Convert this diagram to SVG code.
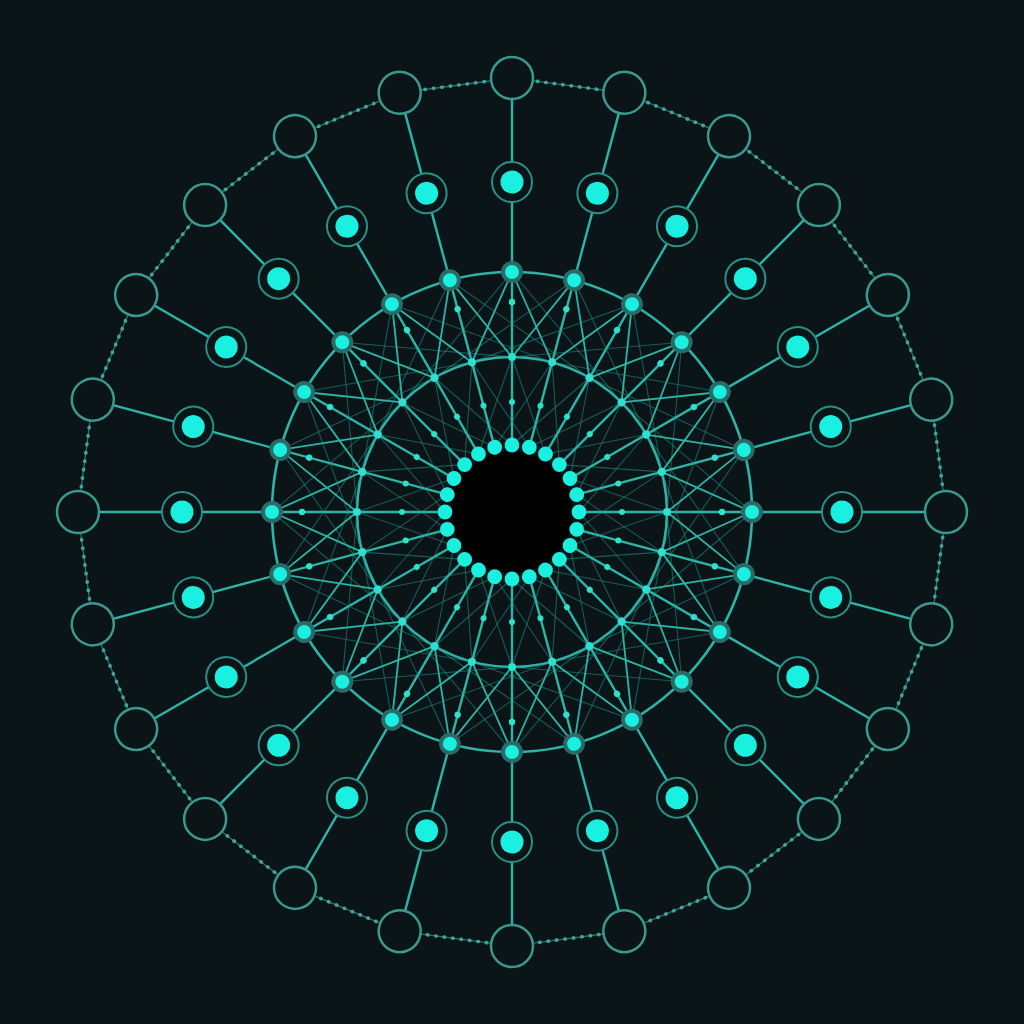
<svg xmlns="http://www.w3.org/2000/svg" xmlns:xlink="http://www.w3.org/1999/xlink" width="1024" height="1024" viewBox="0 0 1024 1024">
<style>
.spoke{stroke:#2cb5a7;stroke-width:2.4;fill:none}
.web{stroke:#2cb5a7;stroke-width:1.8;fill:none}
.thin{stroke:#25a093;stroke-width:1.1;fill:none;opacity:.5}
.ring{stroke:#2cb5a7;stroke-width:2.6;fill:none}
.dots{stroke:#3fa59b;stroke-width:3.6;stroke-linecap:round;stroke-dasharray:0.5 8;fill:none}
.faint{stroke:#2d7d76;stroke-width:1.2;fill:none}
.outer{fill:#0b1518;stroke:#3a9a91;stroke-width:2.5}
.cring{fill:#0b1518;stroke:#2a8f86;stroke-width:2}
.cyan{fill:#19f0e0}
.halo{fill:#2b6a66}
.jd{fill:#2ee0d0}
</style>
<defs>
<g id="sec">
 <line class="faint" x1="512" y1="78" x2="624.3" y2="92.8"/>
 <line class="dots" x1="512" y1="78" x2="624.3" y2="92.8"/>
 <line class="spoke" x1="512" y1="99" x2="512" y2="450"/>
 <line class="web" x1="512" y1="272" x2="552.1" y2="362.3"/>
 <line class="web" x1="512" y1="272" x2="471.9" y2="362.3"/>
 <line class="thin" x1="512" y1="272" x2="621.6" y2="402.4"/>
 <line class="thin" x1="512" y1="272" x2="402.4" y2="402.4"/>
 <line class="thin" x1="512" y1="357" x2="545.5" y2="454"/>
 <line class="thin" x1="512" y1="357" x2="478.5" y2="454"/>
</g>
<g id="jn">
 <circle class="jd" cx="512" cy="302" r="3.2"/>
 <circle class="jd" cx="512" cy="357" r="4"/>
 <circle class="jd" cx="512" cy="402" r="3"/>
</g>
<g id="on"><circle class="outer" cx="512" cy="78" r="21"/></g>
<g id="cn"><circle class="cring" cx="512" cy="182" r="20"/><circle class="cyan" cx="512" cy="182" r="11.5"/></g>
<g id="mn"><circle class="halo" cx="512" cy="272" r="11"/><circle class="cyan" cx="512" cy="272" r="7"/></g>
<g id="dn"><circle class="cyan" cx="512" cy="445" r="7.4"/></g>
</defs>
<rect width="1024" height="1024" fill="#0b1518"/>
<g id="connectors">
 <circle class="ring" cx="512" cy="512" r="240"/>
 <circle class="ring" cx="512" cy="512" r="155"/>
 <use xlink:href="#sec"/>
 <use xlink:href="#sec" transform="rotate(15 512 512)"/>
 <use xlink:href="#sec" transform="rotate(30 512 512)"/>
 <use xlink:href="#sec" transform="rotate(45 512 512)"/>
 <use xlink:href="#sec" transform="rotate(60 512 512)"/>
 <use xlink:href="#sec" transform="rotate(75 512 512)"/>
 <use xlink:href="#sec" transform="rotate(90 512 512)"/>
 <use xlink:href="#sec" transform="rotate(105 512 512)"/>
 <use xlink:href="#sec" transform="rotate(120 512 512)"/>
 <use xlink:href="#sec" transform="rotate(135 512 512)"/>
 <use xlink:href="#sec" transform="rotate(150 512 512)"/>
 <use xlink:href="#sec" transform="rotate(165 512 512)"/>
 <use xlink:href="#sec" transform="rotate(180 512 512)"/>
 <use xlink:href="#sec" transform="rotate(195 512 512)"/>
 <use xlink:href="#sec" transform="rotate(210 512 512)"/>
 <use xlink:href="#sec" transform="rotate(225 512 512)"/>
 <use xlink:href="#sec" transform="rotate(240 512 512)"/>
 <use xlink:href="#sec" transform="rotate(255 512 512)"/>
 <use xlink:href="#sec" transform="rotate(270 512 512)"/>
 <use xlink:href="#sec" transform="rotate(285 512 512)"/>
 <use xlink:href="#sec" transform="rotate(300 512 512)"/>
 <use xlink:href="#sec" transform="rotate(315 512 512)"/>
 <use xlink:href="#sec" transform="rotate(330 512 512)"/>
 <use xlink:href="#sec" transform="rotate(345 512 512)"/>
</g>
<g id="junctions">
 <use xlink:href="#jn"/>
 <use xlink:href="#jn" transform="rotate(15 512 512)"/>
 <use xlink:href="#jn" transform="rotate(30 512 512)"/>
 <use xlink:href="#jn" transform="rotate(45 512 512)"/>
 <use xlink:href="#jn" transform="rotate(60 512 512)"/>
 <use xlink:href="#jn" transform="rotate(75 512 512)"/>
 <use xlink:href="#jn" transform="rotate(90 512 512)"/>
 <use xlink:href="#jn" transform="rotate(105 512 512)"/>
 <use xlink:href="#jn" transform="rotate(120 512 512)"/>
 <use xlink:href="#jn" transform="rotate(135 512 512)"/>
 <use xlink:href="#jn" transform="rotate(150 512 512)"/>
 <use xlink:href="#jn" transform="rotate(165 512 512)"/>
 <use xlink:href="#jn" transform="rotate(180 512 512)"/>
 <use xlink:href="#jn" transform="rotate(195 512 512)"/>
 <use xlink:href="#jn" transform="rotate(210 512 512)"/>
 <use xlink:href="#jn" transform="rotate(225 512 512)"/>
 <use xlink:href="#jn" transform="rotate(240 512 512)"/>
 <use xlink:href="#jn" transform="rotate(255 512 512)"/>
 <use xlink:href="#jn" transform="rotate(270 512 512)"/>
 <use xlink:href="#jn" transform="rotate(285 512 512)"/>
 <use xlink:href="#jn" transform="rotate(300 512 512)"/>
 <use xlink:href="#jn" transform="rotate(315 512 512)"/>
 <use xlink:href="#jn" transform="rotate(330 512 512)"/>
 <use xlink:href="#jn" transform="rotate(345 512 512)"/>
</g>
<g id="hub"><circle cx="512" cy="512" r="61" fill="#000"/></g>
<g id="outer-nodes">
 <g id="outer-0"><use xlink:href="#on"/></g>
 <g id="outer-1"><use xlink:href="#on" transform="rotate(15 512 512)"/></g>
 <g id="outer-2"><use xlink:href="#on" transform="rotate(30 512 512)"/></g>
 <g id="outer-3"><use xlink:href="#on" transform="rotate(45 512 512)"/></g>
 <g id="outer-4"><use xlink:href="#on" transform="rotate(60 512 512)"/></g>
 <g id="outer-5"><use xlink:href="#on" transform="rotate(75 512 512)"/></g>
 <g id="outer-6"><use xlink:href="#on" transform="rotate(90 512 512)"/></g>
 <g id="outer-7"><use xlink:href="#on" transform="rotate(105 512 512)"/></g>
 <g id="outer-8"><use xlink:href="#on" transform="rotate(120 512 512)"/></g>
 <g id="outer-9"><use xlink:href="#on" transform="rotate(135 512 512)"/></g>
 <g id="outer-10"><use xlink:href="#on" transform="rotate(150 512 512)"/></g>
 <g id="outer-11"><use xlink:href="#on" transform="rotate(165 512 512)"/></g>
 <g id="outer-12"><use xlink:href="#on" transform="rotate(180 512 512)"/></g>
 <g id="outer-13"><use xlink:href="#on" transform="rotate(195 512 512)"/></g>
 <g id="outer-14"><use xlink:href="#on" transform="rotate(210 512 512)"/></g>
 <g id="outer-15"><use xlink:href="#on" transform="rotate(225 512 512)"/></g>
 <g id="outer-16"><use xlink:href="#on" transform="rotate(240 512 512)"/></g>
 <g id="outer-17"><use xlink:href="#on" transform="rotate(255 512 512)"/></g>
 <g id="outer-18"><use xlink:href="#on" transform="rotate(270 512 512)"/></g>
 <g id="outer-19"><use xlink:href="#on" transform="rotate(285 512 512)"/></g>
 <g id="outer-20"><use xlink:href="#on" transform="rotate(300 512 512)"/></g>
 <g id="outer-21"><use xlink:href="#on" transform="rotate(315 512 512)"/></g>
 <g id="outer-22"><use xlink:href="#on" transform="rotate(330 512 512)"/></g>
 <g id="outer-23"><use xlink:href="#on" transform="rotate(345 512 512)"/></g>
</g>
<g id="cyan-nodes">
 <g id="cyan-0"><use xlink:href="#cn"/></g>
 <g id="cyan-1"><use xlink:href="#cn" transform="rotate(15 512 512)"/></g>
 <g id="cyan-2"><use xlink:href="#cn" transform="rotate(30 512 512)"/></g>
 <g id="cyan-3"><use xlink:href="#cn" transform="rotate(45 512 512)"/></g>
 <g id="cyan-4"><use xlink:href="#cn" transform="rotate(60 512 512)"/></g>
 <g id="cyan-5"><use xlink:href="#cn" transform="rotate(75 512 512)"/></g>
 <g id="cyan-6"><use xlink:href="#cn" transform="rotate(90 512 512)"/></g>
 <g id="cyan-7"><use xlink:href="#cn" transform="rotate(105 512 512)"/></g>
 <g id="cyan-8"><use xlink:href="#cn" transform="rotate(120 512 512)"/></g>
 <g id="cyan-9"><use xlink:href="#cn" transform="rotate(135 512 512)"/></g>
 <g id="cyan-10"><use xlink:href="#cn" transform="rotate(150 512 512)"/></g>
 <g id="cyan-11"><use xlink:href="#cn" transform="rotate(165 512 512)"/></g>
 <g id="cyan-12"><use xlink:href="#cn" transform="rotate(180 512 512)"/></g>
 <g id="cyan-13"><use xlink:href="#cn" transform="rotate(195 512 512)"/></g>
 <g id="cyan-14"><use xlink:href="#cn" transform="rotate(210 512 512)"/></g>
 <g id="cyan-15"><use xlink:href="#cn" transform="rotate(225 512 512)"/></g>
 <g id="cyan-16"><use xlink:href="#cn" transform="rotate(240 512 512)"/></g>
 <g id="cyan-17"><use xlink:href="#cn" transform="rotate(255 512 512)"/></g>
 <g id="cyan-18"><use xlink:href="#cn" transform="rotate(270 512 512)"/></g>
 <g id="cyan-19"><use xlink:href="#cn" transform="rotate(285 512 512)"/></g>
 <g id="cyan-20"><use xlink:href="#cn" transform="rotate(300 512 512)"/></g>
 <g id="cyan-21"><use xlink:href="#cn" transform="rotate(315 512 512)"/></g>
 <g id="cyan-22"><use xlink:href="#cn" transform="rotate(330 512 512)"/></g>
 <g id="cyan-23"><use xlink:href="#cn" transform="rotate(345 512 512)"/></g>
</g>
<g id="mid-nodes">
 <g id="mid-0"><use xlink:href="#mn"/></g>
 <g id="mid-1"><use xlink:href="#mn" transform="rotate(15 512 512)"/></g>
 <g id="mid-2"><use xlink:href="#mn" transform="rotate(30 512 512)"/></g>
 <g id="mid-3"><use xlink:href="#mn" transform="rotate(45 512 512)"/></g>
 <g id="mid-4"><use xlink:href="#mn" transform="rotate(60 512 512)"/></g>
 <g id="mid-5"><use xlink:href="#mn" transform="rotate(75 512 512)"/></g>
 <g id="mid-6"><use xlink:href="#mn" transform="rotate(90 512 512)"/></g>
 <g id="mid-7"><use xlink:href="#mn" transform="rotate(105 512 512)"/></g>
 <g id="mid-8"><use xlink:href="#mn" transform="rotate(120 512 512)"/></g>
 <g id="mid-9"><use xlink:href="#mn" transform="rotate(135 512 512)"/></g>
 <g id="mid-10"><use xlink:href="#mn" transform="rotate(150 512 512)"/></g>
 <g id="mid-11"><use xlink:href="#mn" transform="rotate(165 512 512)"/></g>
 <g id="mid-12"><use xlink:href="#mn" transform="rotate(180 512 512)"/></g>
 <g id="mid-13"><use xlink:href="#mn" transform="rotate(195 512 512)"/></g>
 <g id="mid-14"><use xlink:href="#mn" transform="rotate(210 512 512)"/></g>
 <g id="mid-15"><use xlink:href="#mn" transform="rotate(225 512 512)"/></g>
 <g id="mid-16"><use xlink:href="#mn" transform="rotate(240 512 512)"/></g>
 <g id="mid-17"><use xlink:href="#mn" transform="rotate(255 512 512)"/></g>
 <g id="mid-18"><use xlink:href="#mn" transform="rotate(270 512 512)"/></g>
 <g id="mid-19"><use xlink:href="#mn" transform="rotate(285 512 512)"/></g>
 <g id="mid-20"><use xlink:href="#mn" transform="rotate(300 512 512)"/></g>
 <g id="mid-21"><use xlink:href="#mn" transform="rotate(315 512 512)"/></g>
 <g id="mid-22"><use xlink:href="#mn" transform="rotate(330 512 512)"/></g>
 <g id="mid-23"><use xlink:href="#mn" transform="rotate(345 512 512)"/></g>
</g>
<g id="hub-dots">
 <g id="dot-0"><use xlink:href="#dn"/></g>
 <g id="dot-1"><use xlink:href="#dn" transform="rotate(15 512 512)"/></g>
 <g id="dot-2"><use xlink:href="#dn" transform="rotate(30 512 512)"/></g>
 <g id="dot-3"><use xlink:href="#dn" transform="rotate(45 512 512)"/></g>
 <g id="dot-4"><use xlink:href="#dn" transform="rotate(60 512 512)"/></g>
 <g id="dot-5"><use xlink:href="#dn" transform="rotate(75 512 512)"/></g>
 <g id="dot-6"><use xlink:href="#dn" transform="rotate(90 512 512)"/></g>
 <g id="dot-7"><use xlink:href="#dn" transform="rotate(105 512 512)"/></g>
 <g id="dot-8"><use xlink:href="#dn" transform="rotate(120 512 512)"/></g>
 <g id="dot-9"><use xlink:href="#dn" transform="rotate(135 512 512)"/></g>
 <g id="dot-10"><use xlink:href="#dn" transform="rotate(150 512 512)"/></g>
 <g id="dot-11"><use xlink:href="#dn" transform="rotate(165 512 512)"/></g>
 <g id="dot-12"><use xlink:href="#dn" transform="rotate(180 512 512)"/></g>
 <g id="dot-13"><use xlink:href="#dn" transform="rotate(195 512 512)"/></g>
 <g id="dot-14"><use xlink:href="#dn" transform="rotate(210 512 512)"/></g>
 <g id="dot-15"><use xlink:href="#dn" transform="rotate(225 512 512)"/></g>
 <g id="dot-16"><use xlink:href="#dn" transform="rotate(240 512 512)"/></g>
 <g id="dot-17"><use xlink:href="#dn" transform="rotate(255 512 512)"/></g>
 <g id="dot-18"><use xlink:href="#dn" transform="rotate(270 512 512)"/></g>
 <g id="dot-19"><use xlink:href="#dn" transform="rotate(285 512 512)"/></g>
 <g id="dot-20"><use xlink:href="#dn" transform="rotate(300 512 512)"/></g>
 <g id="dot-21"><use xlink:href="#dn" transform="rotate(315 512 512)"/></g>
 <g id="dot-22"><use xlink:href="#dn" transform="rotate(330 512 512)"/></g>
 <g id="dot-23"><use xlink:href="#dn" transform="rotate(345 512 512)"/></g>
</g>
</svg>
